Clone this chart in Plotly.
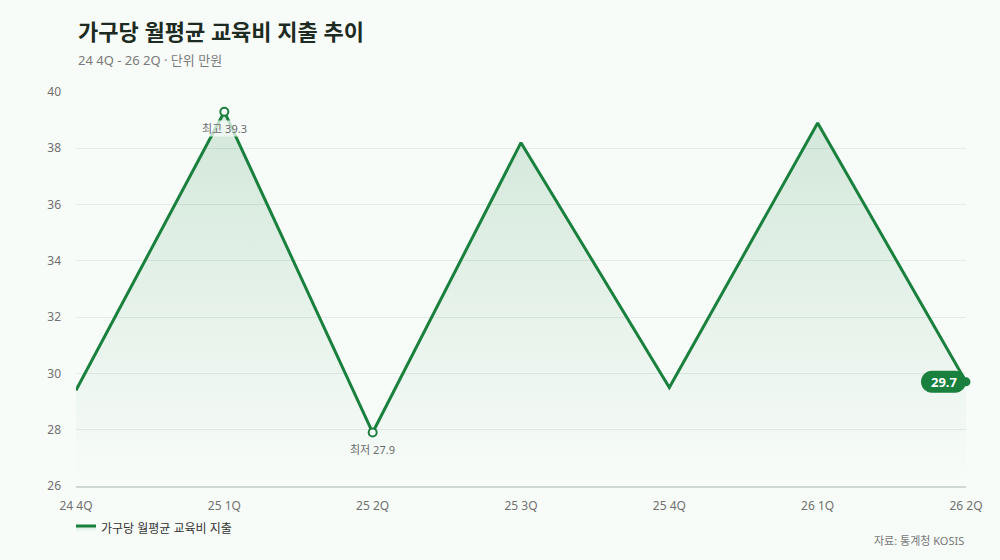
import plotly.graph_objects as go

categories = ["24 4Q", "25 1Q", "25 2Q", "25 3Q", "25 4Q", "26 1Q", "26 2Q"]
values = [29.4, 39.3, 27.9, 38.2, 29.5, 38.9, 29.7]
series_name = "가구당 월평균 교육비 지출"
y_ticks = [26, 28, 30, 32, 34, 36, 38, 40]

GREEN = "#19803d"
FONT = "Noto Sans, Noto Sans CJK KR, sans-serif"
BG = "#f8fcf9"

imax = values.index(max(values))
imin = values.index(min(values))
ilast = len(values) - 1

fig = go.Figure()

# baseline for gradient fill
fig.add_trace(go.Scatter(
    x=categories, y=[y_ticks[0]] * len(categories), mode="lines",
    line=dict(width=0, color="rgba(0,0,0,0)"), showlegend=False, hoverinfo="skip"))

fig.add_trace(go.Scatter(
    x=categories, y=values, mode="lines", name=series_name,
    line=dict(color=GREEN, width=3),
    fill="tonexty",
    fillgradient=dict(type="vertical",
                      colorscale=[[0, "rgba(25,128,61,0.0)"], [1, "rgba(25,128,61,0.17)"]]),
    hoverinfo="skip"))

# hollow markers at max/min
fig.add_trace(go.Scatter(
    x=[categories[imax], categories[imin]], y=[values[imax], values[imin]], mode="markers",
    marker=dict(size=8, color="white", line=dict(color=GREEN, width=2)),
    showlegend=False, hoverinfo="skip"))

# end dot
fig.add_trace(go.Scatter(
    x=[categories[ilast]], y=[values[ilast]], mode="markers",
    marker=dict(size=9, color=GREEN), showlegend=False, hoverinfo="skip", cliponaxis=False))

k = 6.075
pill = (f"M -34 -11 L -11 -11 C {-11 + k} -11 0 {-k} 0 0 "
        f"C 0 {k} {-11 + k} 11 -11 11 L -34 11 "
        f"C {-34 - k} 11 -45 {k} -45 0 C -45 {-k} {-34 - k} -11 -34 -11 Z")
fig.add_shape(type="path", xref="x", yref="y", xsizemode="pixel", ysizemode="pixel",
              xanchor=categories[ilast], yanchor=values[ilast], path=pill,
              fillcolor=GREEN, line=dict(width=0), layer="above")

annotations = [
    dict(x=categories[imax], y=values[imax], xref="x", yref="y", text=f"최고 {values[imax]}",
         showarrow=False, yshift=-17, font=dict(family=FONT, size=11, color="#6b6b6b"),
         bgcolor="rgba(248,252,249,0.75)", borderpad=0),
    dict(x=categories[imin], y=values[imin], xref="x", yref="y", text=f"최저 {values[imin]}",
         showarrow=False, yshift=-17, font=dict(family=FONT, size=11, color="#6b6b6b")),
    dict(x=categories[ilast], y=values[ilast], xref="x", yref="y", text=f"<b>{values[ilast]}</b>",
         showarrow=False, xshift=-22, font=dict(family=FONT, size=13, color="white")),
    dict(x=0, y=1, xref="paper", yref="paper", xanchor="left", yanchor="bottom",
         text="<b>가구당 월평균 교육비 지출 추이</b>", showarrow=False, yshift=44,
         font=dict(family=FONT, size=22, color="#1d2b22")),
    dict(x=0, y=1, xref="paper", yref="paper", xanchor="left", yanchor="bottom",
         text="24 4Q - 26 2Q · 단위 만원", showarrow=False, yshift=21,
         font=dict(family=FONT, size=13, color="#7a7a7a")),
    dict(x=1, y=0, xref="paper", yref="paper", xanchor="right", yanchor="top",
         text="자료: 통계청 KOSIS", showarrow=False, yshift=-45,
         font=dict(family=FONT, size=11, color="#777777")),
]

fig.update_layout(
    width=1000, height=560,
    margin=dict(l=76, r=34, t=92, b=74),
    paper_bgcolor=BG, plot_bgcolor=BG,
    font=dict(family=FONT, color="#707070", size=12),
    showlegend=True,
    legend=dict(orientation="h", x=0, y=-0.07, xanchor="left", yanchor="top",
                font=dict(family=FONT, size=12, color="#333333"),
                bgcolor="rgba(0,0,0,0)", itemwidth=30, indentation=-15),
    annotations=annotations,
    hovermode=False,
)

fig.update_xaxes(showgrid=False, showline=True, linecolor="#cfd8d2", linewidth=2,
                 ticks="", tickfont=dict(family=FONT, size=12, color="#707070"),
                 range=[0, len(categories) - 1], fixedrange=True, zeroline=False,
                 ticklabelstandoff=8)
fig.update_yaxes(range=[y_ticks[0], y_ticks[-1]], tickvals=y_ticks, showgrid=True,
                 gridcolor="#e3ece6", gridwidth=1, zeroline=False, showline=False,
                 tickfont=dict(family=FONT, size=12, color="#707070"),
                 ticklabelstandoff=14, fixedrange=True)

fig.write_html("out.html", config={"displayModeBar": False},
               post_script="document.body.style.margin='0';document.body.style.background='%s';" % BG)
